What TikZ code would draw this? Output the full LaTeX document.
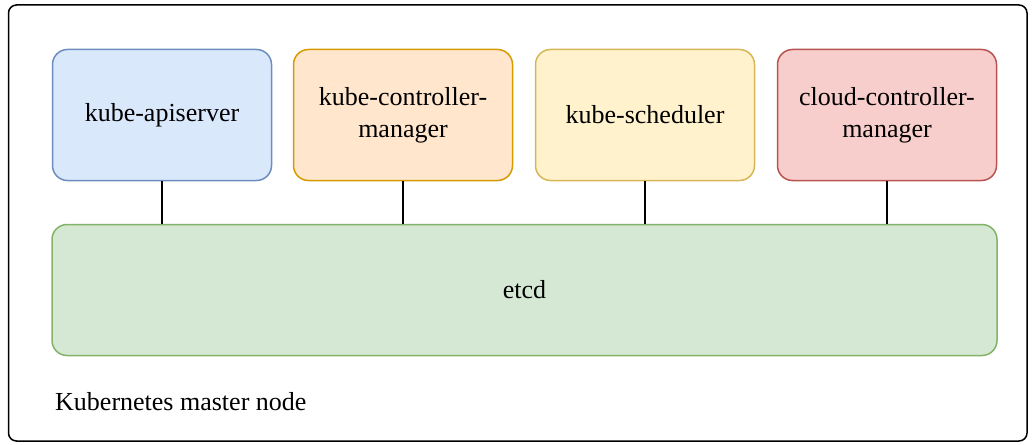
\documentclass[tikz,border=0pt]{standalone}
\usepackage{fontspec}
\setmainfont{Liberation Serif}
\begin{document}
\begin{tikzpicture}[x=1pt,y=-1pt,
  comp/.style={draw, line width=1.5pt, rounded corners=15pt, minimum width=219pt, minimum height=131pt, align=center, font=\fontsize{26}{32}\selectfont, inner sep=0pt},
  link/.style={draw=black, line width=1.5pt}]
\definecolor{bfill}{HTML}{DAE8FC}\definecolor{bline}{HTML}{6C8EBF}
\definecolor{ofill}{HTML}{FFE6CC}\definecolor{oline}{HTML}{D79B00}
\definecolor{yfill}{HTML}{FFF2CC}\definecolor{yline}{HTML}{D6B656}
\definecolor{rfill}{HTML}{F8CECC}\definecolor{rline}{HTML}{B85450}
\definecolor{gfill}{HTML}{D5E8D4}\definecolor{gline}{HTML}{82B366}
\useasboundingbox (0,0) rectangle (1035,444);
\draw[line width=1.5pt, rounded corners=8pt] (8.5,5) rectangle (1027,441);
\node[comp, fill=bfill, draw=bline] (api) at (162,115) {kube-apiserver};
\node[comp, fill=ofill, draw=oline] (ctrl) at (403,115) {kube-controller-\\manager};
\node[comp, fill=yfill, draw=yline] (sched) at (645,115) {kube-scheduler};
\node[comp, fill=rfill, draw=rline] (cloud) at (887,115) {cloud-controller-\\manager};
\node[comp, fill=gfill, draw=gline, minimum width=945pt] (etcd) at (524.5,290) {etcd};
\draw[link] (api.south) -- (api.south |- etcd.north);
\draw[link] (ctrl.south) -- (ctrl.south |- etcd.north);
\draw[link] (sched.south) -- (sched.south |- etcd.north);
\draw[link] (cloud.south) -- (cloud.south |- etcd.north);
\node[anchor=base west, font=\fontsize{26}{32}\selectfont, inner sep=0pt] (label) at (55,410) {Kubernetes master node};
\end{tikzpicture}
\end{document}
